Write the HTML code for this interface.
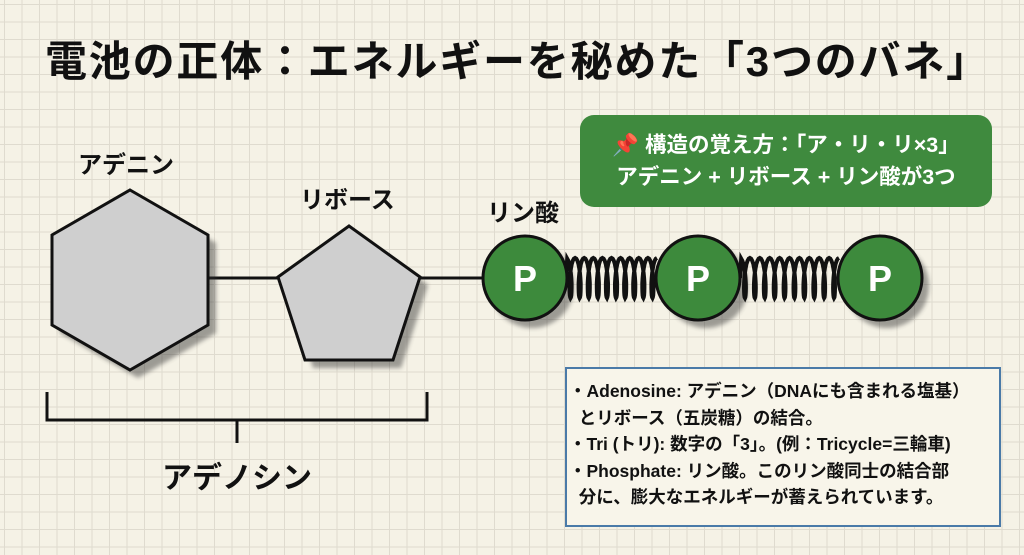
<!DOCTYPE html>
<html><head><meta charset="utf-8"><style>
body{margin:0;width:1024px;height:555px;overflow:hidden;background:#f5f2e6;
background-image:linear-gradient(#dfdbcf 1px,transparent 1px),linear-gradient(90deg,#dfdbcf 1px,transparent 1px);background-size:17.5px 17.5px;background-position:4px 4px;
font-family:"Liberation Sans","Noto Sans CJK JP",sans-serif;position:relative}
.t{position:absolute;font-weight:bold;color:#111;white-space:nowrap}
</style></head><body>
<div class="t" style="left:45px;top:28px;font-size:42px;letter-spacing:1.8px">電池の正体：エネルギーを秘めた「3つのバネ」</div>
<div class="t" style="left:78px;top:145px;font-size:24px">アデニン</div>
<div class="t" style="left:300px;top:180px;font-size:24px">リボース</div>
<div class="t" style="left:487px;top:193px;font-size:24px">リン酸</div>
<svg width="1024" height="555" style="position:absolute;left:0;top:0">
<defs><filter id="sh"><feGaussianBlur stdDeviation="2"/></filter></defs>
<line x1="205" y1="278" x2="485" y2="278" stroke="#111" stroke-width="3"/>
<g opacity="0.45" filter="url(#sh)">
<polygon points="138,198 216,243 216,333 138,378 60,333 60,243" fill="#333"/>
<polygon points="357,234 428,285 401,368 313,368 286,285" fill="#333"/>
<circle cx="532" cy="286" r="42" fill="#333"/><circle cx="706" cy="286" r="42" fill="#333"/><circle cx="887" cy="286" r="42" fill="#333"/>
</g>
<polygon points="130,190 208,235 208,325 130,370 52,325 52,235" fill="#cfcfcf" stroke="#111" stroke-width="3"/>
<polygon points="349,226 420,277 393,360 305,360 278,277" fill="#cfcfcf" stroke="#111" stroke-width="3"/>
<path id="s1" fill="none" stroke="#111" stroke-width="4"/>
<path id="s2" fill="none" stroke="#111" stroke-width="4"/>
<g stroke="#111" stroke-width="3" fill="#3d8a3c">
<circle cx="525" cy="278" r="42"/><circle cx="698" cy="278" r="42"/><circle cx="880" cy="278" r="42"/></g>
<g fill="#fff" font-size="36" font-weight="bold" text-anchor="middle" font-family="Liberation Sans,sans-serif">
<text x="525" y="291">P</text><text x="698" y="291">P</text><text x="880" y="291">P</text></g>
<path d="M47 392 V420 H427 V392 M237 420 V443" fill="none" stroke="#111" stroke-width="3"/>
</svg>
<div class="t" style="left:162px;top:453px;font-size:30px">アデノシン</div>
<div style="position:absolute;left:580px;top:115px;width:412px;height:92px;background:#3f8a3e;border-radius:14px;color:#fff;font-weight:bold;font-size:21.5px;text-align:center;line-height:32px;padding-top:14px;box-sizing:border-box;white-space:nowrap">📌 構造の覚え方：「ア・リ・リ×3」<br>アデニン + リボース + リン酸が3つ</div>
<div style="position:absolute;left:565px;top:367px;width:436px;height:160px;background:#f8f5ea;border:2px solid #4a7aa8;box-sizing:border-box;font-weight:bold;font-size:17.5px;line-height:26.5px;padding:9px 0 0 2px;color:#111;white-space:nowrap">
・Adenosine: アデニン（DNAにも含まれる塩基）<br>&nbsp;&nbsp;とリボース（五炭糖）の結合。<br>・Tri (トリ): 数字の「3」。(例：Tricycle=三輪車)<br>・Phosphate: リン酸。このリン酸同士の結合部<br>&nbsp;&nbsp;分に、膨大なエネルギーが蓄えられています。</div>
<script>
function sp(id,x0,x1,n){var d="M"+x0+" 278",N=n*24;for(var i=1;i<=N;i++){var t=i/N,a=t*n*2*Math.PI;var x=x0+(x1-x0)*t+3*Math.sin(a);d+=" L"+x.toFixed(1)+" "+(278-20*Math.cos(a)).toFixed(1);}document.getElementById(id).setAttribute("d",d);}
sp("s1",566,657,10);sp("s2",740,839,10);
</script>
</body></html>
